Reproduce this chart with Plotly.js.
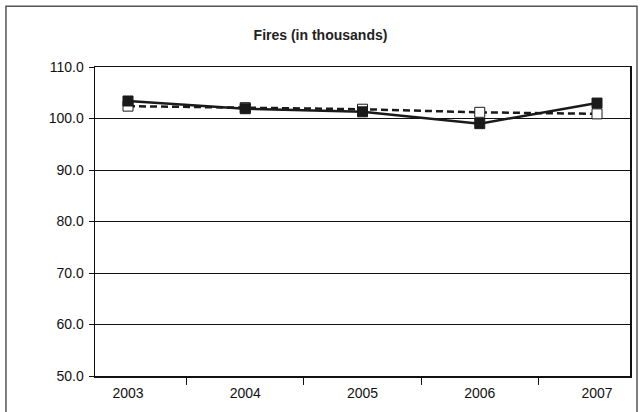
<!DOCTYPE html>
<html>
<head>
<meta charset="utf-8">
<script src="https://cdn.plot.ly/plotly-3.0.1.min.js"></script>
<style>html,body{margin:0;padding:0;background:#fff;}#chart{width:641px;height:412px;}</style>
</head>
<body>
<div id="chart"></div>
<script>
var years = ['2003', '2004', '2005', '2006', '2007'];
var seriesFilled = [103.4, 101.9, 101.3, 99.0, 103.0];
var seriesHollow = [102.4, 102.1, 101.8, 101.2, 100.9];
var yTicks = [50, 60, 70, 80, 90, 100, 110];
var yTickLabels = ['50.0', '60.0', '70.0', '80.0', '90.0', '100.0', '110.0'];

var traces = [
  {
    x: years, y: seriesHollow, type: 'scatter', mode: 'lines+markers',
    line: {color: '#1a1a1a', width: 2.5, dash: '7px,4px'},
    marker: {symbol: 'square', size: 10, color: '#ffffff', line: {color: '#1a1a1a', width: 1}},
    hoverinfo: 'x+y'
  },
  {
    x: years, y: seriesFilled, type: 'scatter', mode: 'lines+markers',
    line: {color: '#1a1a1a', width: 2.5},
    marker: {symbol: 'square', size: 10, color: '#1a1a1a', line: {color: '#1a1a1a', width: 1}},
    hoverinfo: 'x+y'
  }
];

var layout = {
  width: 641, height: 412,
  margin: {l: 95, r: 11, t: 67, b: 36},
  paper_bgcolor: '#ffffff', plot_bgcolor: '#ffffff',
  showlegend: false,
  title: {text: '<b>Fires (in thousands)</b>', x: 0.5, xanchor: 'center', y: 0.915, yanchor: 'middle',
          font: {family: 'Liberation Sans, Arial, sans-serif', size: 14, color: '#222'}},
  font: {family: 'Liberation Sans, Arial, sans-serif', size: 14, color: '#111'},
  xaxis: {
    type: 'category', tickson: 'boundaries', ticks: 'outside', ticklen: 7, tickcolor: '#111', tickwidth: 1,
    showline: true, linecolor: '#111', linewidth: 1.5, mirror: true, showgrid: false, zeroline: false,
    tickfont: {size: 14, color: '#111'}, ticklabelstandoff: 4, fixedrange: true
  },
  yaxis: {
    range: [50, 110], tickvals: yTicks, ticktext: yTickLabels, ticks: 'outside', ticklen: 5,
    tickcolor: '#111', showline: true, linecolor: '#111', linewidth: 1.5, mirror: true,
    showgrid: true, gridcolor: '#111', gridwidth: 1, zeroline: false,
    tickfont: {size: 14, color: '#111'}, ticklabelstandoff: 2, fixedrange: true
  },
  shapes: [
    {type: 'rect', xref: 'paper', yref: 'paper', x0: -0.1664, x1: 1.0131, y0: -0.2, y1: 1.197,
     line: {color: '#555', width: 1.5}, layer: 'below'}
  ]
};

Plotly.newPlot('chart', traces, layout, {displayModeBar: false, staticPlot: true});
</script>
</body>
</html>
